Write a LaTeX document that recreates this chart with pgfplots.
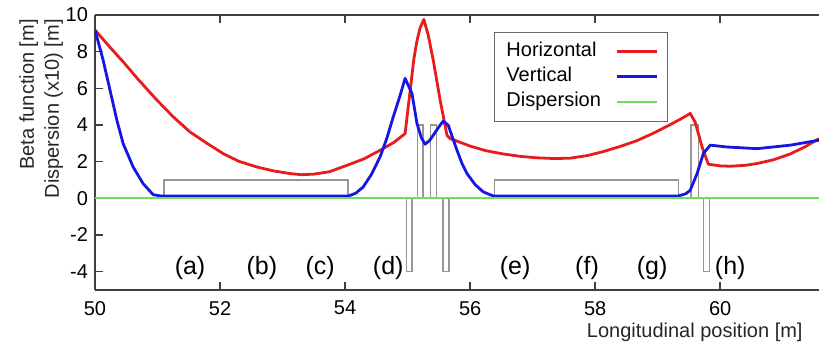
\documentclass[border=0pt]{standalone}
\usepackage{pgfplots}
\pgfplotsset{compat=1.18}
\usepackage{fontspec}
\setmainfont{Liberation Sans}
\definecolor{hred}{RGB}{232,28,28}
\definecolor{vblue}{RGB}{22,22,228}
\definecolor{dgreen}{RGB}{110,222,90}
\definecolor{boxgray}{RGB}{150,150,150}
\begin{document}
\begin{tikzpicture}
\useasboundingbox (-47.5pt,-26pt) rectangle (362pt,145pt);
\begin{axis}[
  scale only axis, width=362pt, height=137.5pt,
  xmin=50, xmax=61.58, ymin=-5, ymax=10,
  axis x line*=box, axis y line*=left,
  tick align=inside, xtick pos=both, ytick pos=left,
  xtick={50,52,54,56,58,60}, ytick={-4,-2,0,2,4,6,8,10},
  major tick length=4pt,
  every tick/.style={black!75, line width=0.8pt},
  axis line style={black!75, line width=0.9pt},
  /pgf/number format/assume math mode=true,
  tick label style={font=\fontsize{10}{12}\selectfont},
  xticklabel style={yshift=-2pt},
  legend style={at={(axis cs:56.38,9.09)}, anchor=north west, draw=black!60, line width=0.6pt,
    font=\fontsize{10}{12}\selectfont, inner xsep=4.5pt, inner ysep=3.5pt,
    nodes={inner sep=1.5pt, text height=7.3pt, text depth=2.2pt},
    row sep=0pt, /tikz/every odd column/.append style={column sep=6pt}},
  legend plot pos=right, legend cell align=left,
  legend image code/.code={\draw[#1] (0pt,0pt) -- (20pt,0pt);},
]
% magnet layout
\addplot[boxgray, line width=0.75pt, forget plot] coordinates {(51.1,0) (51.1,1) (54.05,1) (54.05,0)};
\addplot[boxgray, line width=0.75pt, forget plot] coordinates {(54.98,0) (54.98,-4) (55.07,-4) (55.07,0)};
\addplot[boxgray, line width=0.75pt, forget plot] coordinates {(55.16,0) (55.16,4) (55.25,4) (55.25,0)};
\addplot[boxgray, line width=0.75pt, forget plot] coordinates {(55.37,0) (55.37,4) (55.46,4) (55.46,0)};
\addplot[boxgray, line width=0.75pt, forget plot] coordinates {(55.57,0) (55.57,-4) (55.66,-4) (55.66,0)};
\addplot[boxgray, line width=0.75pt, forget plot] coordinates {(56.39,0) (56.39,1) (59.33,1) (59.33,0)};
\addplot[boxgray, line width=0.75pt, forget plot] coordinates {(59.53,0) (59.53,4) (59.65,4) (59.65,0)};
\addplot[boxgray, line width=0.75pt, forget plot] coordinates {(59.73,0) (59.73,-4) (59.83,-4) (59.83,0)};
% Horizontal
\addplot[hred, line width=1.4pt, line join=round] coordinates {
(50,9.18) (50.25,8.2) (50.45,7.45) (50.7,6.45) (50.99,5.36) (51.25,4.45) (51.52,3.62)
(51.8,2.98) (52.05,2.44) (52.3,2.02) (52.59,1.71) (52.85,1.5) (53.12,1.35) (53.3,1.29)
(53.5,1.32) (53.75,1.45) (54.03,1.8) (54.3,2.15) (54.56,2.62) (54.78,3.05) (54.96,3.53)
(55.1,7.6) (55.15,8.6) (55.2,9.3) (55.26,9.76) (55.33,8.9) (55.41,7.54) (55.52,5.36)
(55.63,3.44) (55.68,3.26) (56.0,2.85) (56.25,2.6) (56.53,2.42) (56.8,2.29) (57.07,2.21)
(57.35,2.17) (57.6,2.19) (57.87,2.33) (58.13,2.55) (58.4,2.83) (58.67,3.15) (58.93,3.55)
(59.2,4.02) (59.38,4.35) (59.52,4.63) (59.6,4.15) (59.71,2.8) (59.81,1.86) (60.0,1.77)
(60.16,1.75) (60.4,1.8) (60.59,1.9) (60.85,2.1) (61.12,2.42) (61.35,2.8) (61.58,3.26)};
\addlegendentry{Horizontal}
% Vertical
\addplot[vblue, line width=1.4pt, line join=round] coordinates {
(50,9.18) (50.13,7.54) (50.24,5.9) (50.35,4.26) (50.45,2.99) (50.61,1.71) (50.77,0.8)
(50.93,0.2) (51.07,0.12) (54.05,0.12) (54.17,0.28) (54.29,0.62) (54.42,1.3) (54.56,2.26)
(54.67,3.3) (54.77,4.44) (54.87,5.5) (54.96,6.54) (55.07,5.72) (55.15,4.08) (55.22,3.3)
(55.28,2.95) (55.35,3.15) (55.41,3.44) (55.5,3.9) (55.57,4.21) (55.65,3.99) (55.72,3.3)
(55.79,2.62) (55.87,1.9) (55.95,1.35) (56.08,0.75) (56.21,0.35) (56.37,0.13) (59.33,0.13)
(59.45,0.25) (59.52,0.44) (59.63,1.35) (59.73,2.44) (59.84,2.9) (60.11,2.8) (60.59,2.71)
(61.12,2.9) (61.58,3.17)};
\addlegendentry{Vertical}
% Dispersion
\addplot[dgreen, line width=0.9pt] coordinates {(50,0) (61.58,0)};
\addlegendentry{Dispersion}
\node[font=\fontsize{12.5}{14}\selectfont] at (axis cs:51.52,-3.8) {(a)};
\node[font=\fontsize{12.5}{14}\selectfont] at (axis cs:52.67,-3.8) {(b)};
\node[font=\fontsize{12.5}{14}\selectfont] at (axis cs:53.6,-3.8) {(c)};
\node[font=\fontsize{12.5}{14}\selectfont] at (axis cs:54.69,-3.8) {(d)};
\node[font=\fontsize{12.5}{14}\selectfont] at (axis cs:56.72,-3.8) {(e)};
\node[font=\fontsize{12.5}{14}\selectfont] at (axis cs:57.87,-3.8) {(f)};
\node[font=\fontsize{12.5}{14}\selectfont] at (axis cs:58.91,-3.8) {(g)};
\node[font=\fontsize{12.5}{14}\selectfont] at (axis cs:60.16,-3.8) {(h)};
\end{axis}
\node[rotate=90, anchor=north east, align=right, inner sep=0pt,
  font=\fontsize{10}{12.5}\selectfont, text=black!85] at (-38pt,135.5pt)
  {Beta function [m]\\Dispersion (x10) [m]};
\node[anchor=east, inner sep=0pt, font=\fontsize{10}{12}\selectfont, text=black!85]
  at (354pt,-21pt) {Longitudinal position [m]};
\end{tikzpicture}
\end{document}
